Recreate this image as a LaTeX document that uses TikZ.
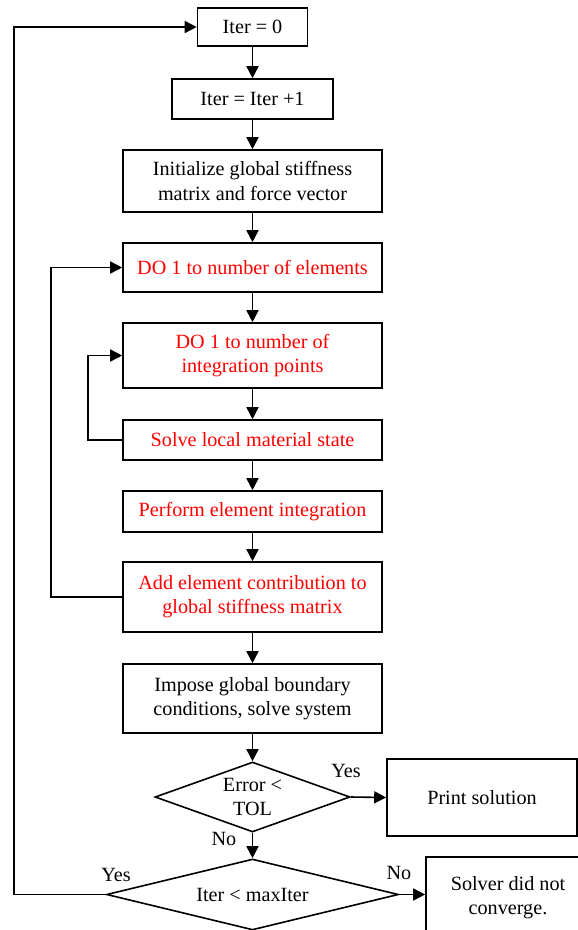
\documentclass[tikz,border=0pt]{standalone}
\usepackage{fontspec}
\setmainfont{Liberation Serif}
\usetikzlibrary{arrows.meta,shapes.geometric}
\begin{document}
\begin{tikzpicture}[x=1pt,y=-1pt,
  every node/.style={font=\fontsize{20.2}{24.3}\selectfont},
  box/.style={draw,line width=1.6pt,rectangle,inner sep=0pt,align=center},
  redtxt/.style={text=red},
  dec/.style={draw,line width=1.6pt,diamond,inner sep=0pt},
  arr/.style={line width=1.6pt,-{Triangle[length=12pt,width=12pt]}},
  lbl/.style={inner sep=0pt}
]
\useasboundingbox (0,0) rectangle (578,930);
\node[box,minimum width=110,minimum height=38] (b1) at (252.5,27) {Iter = 0};
\node[box,minimum width=161,minimum height=40] (b2) at (252.5,99) {Iter = Iter +1};
\node[box,minimum width=259,minimum height=62] (b3) at (252.5,181) {Initialize global stiffness\\matrix and force vector};
\node[box,redtxt,minimum width=259,minimum height=49] (b4) at (252.5,267.5) {DO 1 to number of elements};
\node[box,redtxt,minimum width=259,minimum height=65] (b5) at (252.5,355.5) {DO 1 to number of\\integration points};
\node[box,redtxt,minimum width=259,minimum height=40] (b6) at (252.5,440) {Solve local material state};
\node[box,redtxt,minimum width=259,minimum height=41] (b7) at (252.5,511.5) {Perform element integration};
\node[box,redtxt,minimum width=259,minimum height=70] (b8) at (252.5,597) {Add element contribution to\\global stiffness matrix};
\node[box,minimum width=259,minimum height=69] (b9) at (252.5,698.5) {Impose global boundary\\conditions, solve system};
\node[dec,minimum width=195,minimum height=70] (d1) at (252.5,797) {};
\node[align=center,inner sep=0pt] (d1t) at (d1) {Error <\\TOL};
\node[box,minimum width=190,minimum height=77] (pr) at (482,797.5) {Print solution};
\node[dec,minimum width=292,minimum height=71] (d2) at (252.5,894.5) {};
\node[inner sep=0pt] (d2t) at (d2) {Iter < maxIter};
\node[box,minimum width=164,minimum height=82] (sv) at (508,898) {Solver did not\\converge.};
\coordinate (L1) at (14,0);
\coordinate (L2) at (51,0);
\coordinate (L3) at (88,0);
\draw[arr] (b1) -- (b2);
\draw[arr] (b2) -- (b3);
\draw[arr] (b3) -- (b4);
\draw[arr] (b4) -- (b5);
\draw[arr] (b5) -- (b6);
\draw[arr] (b6) -- (b7);
\draw[arr] (b7) -- (b8);
\draw[arr] (b8) -- (b9);
\draw[arr] (b9) -- (d1);
\draw[arr] (d1.east) -- (pr.west);
\draw[arr] (d1) -- (d2);
\draw[arr] (d2.east) -- (d2.east -| sv.west);
\draw[arr] (d2.west) -- (d2.west -| L1) |- (b1.west);
\draw[arr] (b8.west) -- (b8.west -| L2) |- (b4.west);
\draw[arr] (b6.west) -- (b6.west -| L3) |- (b5.west);
\node[lbl] (y1) at (346,771) {Yes};
\node[lbl] (n1) at (224,839) {No};
\node[lbl] (y2) at (116,875) {Yes};
\node[lbl] (n2) at (399,873) {No};
\end{tikzpicture}
\end{document}
